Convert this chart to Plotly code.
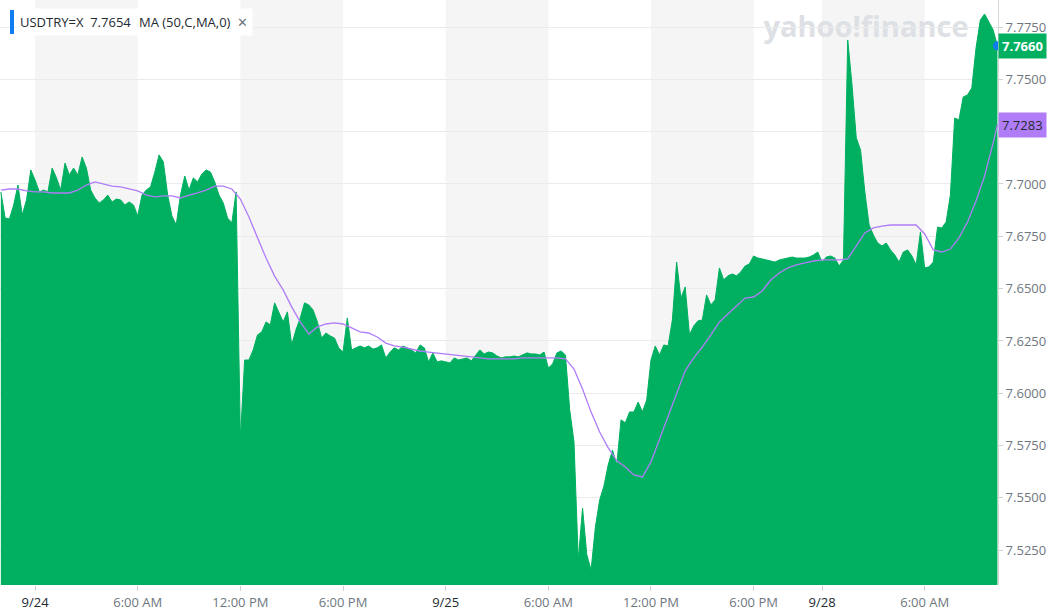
import pandas as pd
import plotly.graph_objects as go

# ---------------- data ----------------
# USDTRY=X close, 15-minute steps from 2020-09-23 22:00 to 2020-09-25 21:45
price_seg1 = [
    7.6962, 7.6838, 7.6833, 7.6900, 7.6995, 7.6852, 7.6924, 7.7067, 7.7019, 7.6962, 7.6971, 7.6962,
    7.7076, 7.7029, 7.6971, 7.7100, 7.7043, 7.7076, 7.7043, 7.7129, 7.7076, 7.6971, 7.6933, 7.6909,
    7.6924, 7.6947, 7.6914, 7.6928, 7.6924, 7.6900, 7.6914, 7.6900, 7.6847, 7.6947, 7.6971, 7.6986,
    7.7057, 7.7139, 7.7105, 7.6947, 7.6847, 7.6804, 7.6947, 7.7038, 7.6971, 7.7029, 7.7010, 7.7048,
    7.7067, 7.7057, 7.7010, 7.6947, 7.6909, 7.6838, 7.6814, 7.6962, 7.5780, 7.6159, 7.6159, 7.6207,
    7.6279, 7.6293, 7.6341, 7.6327, 7.6432, 7.6389, 7.6341, 7.6389, 7.6231, 7.6303, 7.6360, 7.6432,
    7.6422, 7.6398, 7.6341, 7.6264, 7.6288, 7.6274, 7.6264, 7.6216, 7.6197, 7.6360, 7.6207, 7.6217,
    7.6226, 7.6217, 7.6226, 7.6211, 7.6217, 7.6231, 7.6169, 7.6197, 7.6217, 7.6207, 7.6226, 7.6217,
    7.6207, 7.6193, 7.6231, 7.6217, 7.6150, 7.6193, 7.6150, 7.6155, 7.6150, 7.6145, 7.6169, 7.6159,
    7.6164, 7.6169, 7.6155, 7.6183, 7.6207, 7.6188, 7.6197, 7.6193, 7.6178, 7.6169, 7.6174, 7.6174,
    7.6178, 7.6174, 7.6183, 7.6193, 7.6188, 7.6188, 7.6183, 7.6197, 7.6121, 7.6140, 7.6193, 7.6202,
    7.6183, 7.5920, 7.5768, 7.5204, 7.5452, 7.5228, 7.5156, 7.5361, 7.5490, 7.5557, 7.5658, 7.5729,
    7.5658, 7.5873, 7.5859, 7.5911, 7.5911, 7.5958, 7.5911, 7.5968, 7.6159, 7.6226, 7.6183, 7.6231,
    7.6226, 7.6350, 7.6627, 7.6455, 7.6508, 7.6279, 7.6322, 7.6346, 7.6350, 7.6470, 7.6422, 7.6446,
    7.6599, 7.6542, 7.6561, 7.6570, 7.6561, 7.6580, 7.6608, 7.6618, 7.6656, 7.6646, 7.6642, 7.6637,
    7.6632, 7.6627, 7.6637, 7.6642, 7.6646, 7.6651, 7.6646, 7.6646, 7.6646, 7.6651, 7.6661, 7.6675,
]
# 15-minute steps from 2020-09-28 00:00 to 10:15
price_seg2 = [
    7.6627, 7.6651, 7.6656, 7.6646, 7.6608, 7.6637, 7.7688, 7.7473, 7.7220, 7.7162, 7.6962, 7.6804,
    7.6756, 7.6718, 7.6704, 7.6718, 7.6685, 7.6661, 7.6627, 7.6675, 7.6685, 7.6656, 7.6613, 7.6771,
    7.6599, 7.6604, 7.6627, 7.6794, 7.6790, 7.6818, 7.6947, 7.7315, 7.7306, 7.7416, 7.7425, 7.7459,
    7.7650, 7.7783, 7.7812, 7.7774, 7.7736, 7.7660,
]
# MA (50) — 30-minute steps from 2020-09-23 22:00 to 2020-09-25 21:30
ma_seg1 = [
    7.6971, 7.6976, 7.6976, 7.6967, 7.6962, 7.6962, 7.6957, 7.6957, 7.6957, 7.6971, 7.6995, 7.7010,
    7.7000, 7.6990, 7.6986, 7.6976, 7.6967, 7.6947, 7.6938, 7.6943, 7.6943, 7.6933, 7.6947, 7.6957,
    7.6971, 7.6990, 7.6990, 7.6976, 7.6928, 7.6842, 7.6742, 7.6646, 7.6560, 7.6494, 7.6413, 7.6341,
    7.6283, 7.6317, 7.6331, 7.6336, 7.6331, 7.6312, 7.6293, 7.6288, 7.6269, 7.6240, 7.6226, 7.6221,
    7.6212, 7.6202, 7.6197, 7.6193, 7.6188, 7.6183, 7.6178, 7.6174, 7.6169, 7.6164, 7.6164, 7.6164,
    7.6164, 7.6169, 7.6169, 7.6169, 7.6169, 7.6169, 7.6164, 7.6116, 7.6020, 7.5910, 7.5815, 7.5739,
    7.5677, 7.5648, 7.5610, 7.5600, 7.5672, 7.5782, 7.5891, 7.6006, 7.6107, 7.6169, 7.6221, 7.6279,
    7.6341, 7.6379, 7.6417, 7.6455, 7.6460, 7.6489, 7.6541, 7.6575, 7.6599, 7.6613, 7.6623, 7.6632,
]
# 30-minute steps from 2020-09-28 00:00 to 10:00, then the last value at 10:15
ma_seg2 = [
    7.6637, 7.6637, 7.6637, 7.6642, 7.6704, 7.6766, 7.6790, 7.6799, 7.6804, 7.6804, 7.6804, 7.6804,
    7.6761, 7.6685, 7.6675, 7.6689, 7.6742, 7.6818, 7.6919, 7.7038, 7.7196, 7.7283,
]

tick_times = ["2020-09-24 00:00", "2020-09-24 06:00", "2020-09-24 12:00", "2020-09-24 18:00",
              "2020-09-25 00:00", "2020-09-25 06:00", "2020-09-25 12:00", "2020-09-25 18:00",
              "2020-09-28 00:00", "2020-09-28 06:00"]
tick_labels = ["9/24", "6:00 AM", "12:00 PM", "6:00 PM", "9/25", "6:00 AM", "12:00 PM", "6:00 PM",
               "9/28", "6:00 AM"]
y_ticks = [7.525, 7.55, 7.575, 7.6, 7.625, 7.65, 7.675, 7.7, 7.725, 7.75, 7.775]

last_price = 7.7660
last_ma = 7.7283
legend_price = "7.7654"

# ---------------- build ----------------
t1 = pd.date_range("2020-09-23 22:00", periods=len(price_seg1), freq="15min")
t2 = pd.date_range("2020-09-28 00:00", periods=len(price_seg2), freq="15min")
price_t = list(t1) + list(t2)
price = price_seg1 + price_seg2

m1 = pd.date_range("2020-09-23 22:00", periods=len(ma_seg1), freq="30min")
m2 = list(pd.date_range("2020-09-28 00:00", periods=len(ma_seg2) - 1, freq="30min")) + [t2[-1]]
ma_t = list(m1) + m2
ma = ma_seg1 + ma_seg2

GREEN = "#00b060"
PURPLE = "#b07cf8"
FONT = "Open Sans"
PW, PH = 998, 585  # plot area size in px

fig = go.Figure()
fig.add_trace(go.Scatter(x=price_t, y=price, mode="lines", fill="tozeroy",
                         line=dict(color=GREEN, width=1), fillcolor=GREEN,
                         hoverinfo="skip"))
fig.add_trace(go.Scatter(x=ma_t, y=ma, mode="lines",
                         line=dict(color=PURPLE, width=1.3), hoverinfo="skip"))
fig.add_trace(go.Scatter(x=[price_t[-1]], y=[last_price], mode="markers",
                         marker=dict(color="#0f7cf2", size=9), cliponaxis=False,
                         hoverinfo="skip"))

shapes = []
for a, b in zip(tick_times[0::2], tick_times[1::2]):
    shapes.append(dict(type="rect", xref="x", yref="paper", x0=a, x1=b, y0=0, y1=1,
                       fillcolor="#f5f5f5", line=dict(width=0), layer="below"))
shapes.append(dict(type="rect", xref="paper", yref="paper",
                   x0=758 / PW, x1=974 / PW, y0=1 - 44 / PH, y1=1 - 10 / PH,
                   fillcolor="rgba(0,0,0,0)", line=dict(width=0), layer="below",
                   label=dict(text="<b>yahoo!finance</b>", textposition="middle center",
                              font=dict(family=FONT, size=29, color="#dde0e4"))))
shapes.append(dict(type="rect", xref="paper", yref="paper",
                   x0=10 / PW, x1=14 / PW, y0=1 - 34 / PH, y1=1 - 10 / PH,
                   fillcolor="#0f7cf2", line=dict(width=0), layer="above"))

annotations = [
    dict(xref="paper", yref="paper", x=15 / PW, y=1 - 22 / PH, xanchor="left", yanchor="middle",
         text=f"USDTRY=X&nbsp;&nbsp;{legend_price}", showarrow=False, bgcolor="white",
         borderpad=4, font=dict(family=FONT, size=13, color="#232a31")),
    dict(xref="paper", yref="paper", x=134 / PW, y=1 - 22 / PH, xanchor="left", yanchor="middle",
         text="MA (50,C,MA,0)&nbsp;&nbsp;<span style='color:#6e7780'>✕</span>", showarrow=False,
         bgcolor="white", borderpad=4, font=dict(family=FONT, size=13, color="#232a31")),
    dict(xref="paper", yref="y", x=1, y=last_price, xanchor="left", yanchor="middle",
         text=f"<b>{last_price:.4f}</b>", showarrow=False, bgcolor=GREEN, borderpad=3,
         font=dict(family=FONT, size=13, color="white")),
    dict(xref="paper", yref="y", x=1, y=last_ma, xanchor="left", yanchor="middle",
         text=f"{last_ma:.4f}", showarrow=False, bgcolor=PURPLE, borderpad=3,
         font=dict(family=FONT, size=13, color="#232a31")),
]

ticktext = [f"<span style='color:#232a31'>{t}</span>" if "/" in t else t for t in tick_labels]
y_ticktext = [f"{v:.4f}" for v in y_ticks]

fig.update_layout(
    width=1055, height=615,
    margin=dict(l=0, r=57, t=0, b=30),
    paper_bgcolor="white", plot_bgcolor="white",
    showlegend=False, hovermode=False,
    shapes=shapes, annotations=annotations,
    font=dict(family=FONT, size=13, color="#6e7780"),
    xaxis=dict(
        type="date", automargin=False,
        range=["2020-09-23 21:57", "2020-09-28 10:17"],
        rangebreaks=[dict(bounds=["2020-09-25 22:00", "2020-09-28 00:00"])],
        tickvals=tick_times, ticktext=ticktext,
        showgrid=False, zeroline=False, showline=False,
        ticks="outside", ticklen=5, tickcolor="#d0d0d0",
        tickfont=dict(family=FONT, size=13, color="#6e7780"),
    ),
    yaxis=dict(
        side="right", automargin=False,
        range=[7.5084, 7.7879],
        tickmode="array", tickvals=y_ticks, ticktext=y_ticktext,
        showgrid=True, gridcolor="#ebebeb", gridwidth=1,
        zeroline=False, showline=True, linecolor="#d8d8d8", linewidth=1,
        ticks="outside", ticklen=4, tickcolor="#d0d0d0",
        tickfont=dict(family=FONT, size=13, color="#6e7780"),
    ),
)

fig.write_html("out.html", config={"displayModeBar": False},
               post_script="document.body.style.margin='0';document.body.style.overflow='hidden';")
